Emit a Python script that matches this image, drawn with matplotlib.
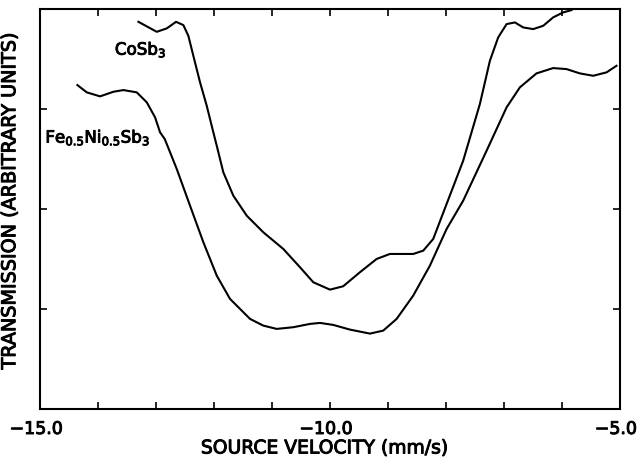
import matplotlib
matplotlib.use("Agg")
import matplotlib.pyplot as plt
import matplotlib.transforms as mtransforms
import matplotlib.patheffects as pe

plt.rcParams["mathtext.default"] = "regular"
plt.rcParams["font.family"] = "DejaVu Sans"

# curva CoSb3 (velocidad en mm/s, transmision en unidades arbitrarias)
x_co = [-13.305, -12.988, -12.816, -12.655, -12.529, -12.443, -12.357, -12.241, -12.126, -12.012,
        -11.953, -11.840, -11.667, -11.436, -11.150, -10.805, -10.517, -10.288, -10.000, -9.771,
        -9.483, -9.195, -8.966, -8.564, -8.391, -8.219, -7.988, -7.702, -7.414, -7.241,
        -7.098, -6.953, -6.810, -6.667, -6.495, -6.322, -6.150, -5.978, -5.833]
y_co = [3.873, 3.773, 3.807, 3.873, 3.840, 3.733, 3.533, 3.267, 3.033, 2.767,
        2.633, 2.367, 2.133, 1.933, 1.767, 1.600, 1.417, 1.267, 1.193, 1.227,
        1.367, 1.500, 1.550, 1.550, 1.583, 1.700, 2.050, 2.483, 3.050, 3.483,
        3.717, 3.850, 3.867, 3.817, 3.800, 3.833, 3.917, 3.967, 3.990]

# curva Fe0.5Ni0.5Sb3
x_fe = [-14.357, -14.195, -13.966, -13.736, -13.564, -13.333, -13.160, -13.017, -12.931, -12.850,
        -12.643, -12.414, -12.184, -11.953, -11.724, -11.379, -11.150, -10.919, -10.633, -10.345,
        -10.172, -9.943, -9.655, -9.310, -9.081, -8.850, -8.564, -8.276, -7.988, -7.702,
        -7.298, -6.953, -6.724, -6.437, -6.150, -5.919, -5.690, -5.460, -5.229, -5.057]
y_fe = [3.240, 3.167, 3.127, 3.173, 3.190, 3.167, 3.067, 2.917, 2.767, 2.700,
        2.400, 2.033, 1.667, 1.333, 1.100, 0.900, 0.833, 0.800, 0.817, 0.850,
        0.860, 0.840, 0.793, 0.753, 0.783, 0.900, 1.133, 1.433, 1.800, 2.083,
        2.583, 3.017, 3.217, 3.357, 3.410, 3.400, 3.357, 3.333, 3.367, 3.433]

ticks_x = [-15, -14, -13, -12, -11, -10, -9, -8, -7, -6, -5]
etiquetas_x = {-15: "\u221215.0", -10: "\u221210.0", -5: "\u22125.0"}
ticks_y = [1, 2, 3]

# trazo fino alrededor del texto para imitar la letra del plotter
grueso = [pe.withStroke(linewidth=0.7, foreground="black")]

fig = plt.figure(figsize=(6.37, 4.60), dpi=100)
ax = fig.add_axes([0.063, 0.109, 0.910, 0.869])

ax.plot(x_co, y_co, color="black", lw=1.5, solid_joinstyle="round")
ax.plot(x_fe, y_fe, color="black", lw=1.5, solid_joinstyle="round")

ax.set_xlim(-15, -5)
ax.set_ylim(0, 4)

ax.set_xticks(ticks_x)
ax.set_xticklabels([etiquetas_x.get(t, "") for t in ticks_x])
ax.set_yticks(ticks_y)
ax.set_yticklabels([])
ax.tick_params(direction="in", length=5, width=1.2, top=True, right=True,
               labelsize=12.5, pad=8)

# las etiquetas del original quedan un poco a la izquierda de cada tick
desplazar = mtransforms.ScaledTranslation(-4 / 100, 0, fig.dpi_scale_trans)
for lab in ax.get_xticklabels():
    lab.set_transform(lab.get_transform() + desplazar)
    lab.set_path_effects(grueso)

for s in ax.spines.values():
    s.set_linewidth(1.5)

ax.set_xlabel("SOURCE VELOCITY (mm/s)", fontsize=13.5, path_effects=grueso)
ax.xaxis.set_label_coords(0.491, -0.074)
ax.set_ylabel("TRANSMISSION (ARBITRARY UNITS)", fontsize=13.8, path_effects=grueso)
ax.yaxis.set_label_coords(-0.036, 0.52)

ax.text(-13.71, 3.60, "CoSb$_3$", fontsize=12, va="center", path_effects=grueso)
ax.text(-14.91, 2.72, "Fe$_{0.5}$Ni$_{0.5}$Sb$_3$", fontsize=12, va="center", path_effects=grueso)

fig.savefig("out.png", dpi=100)
